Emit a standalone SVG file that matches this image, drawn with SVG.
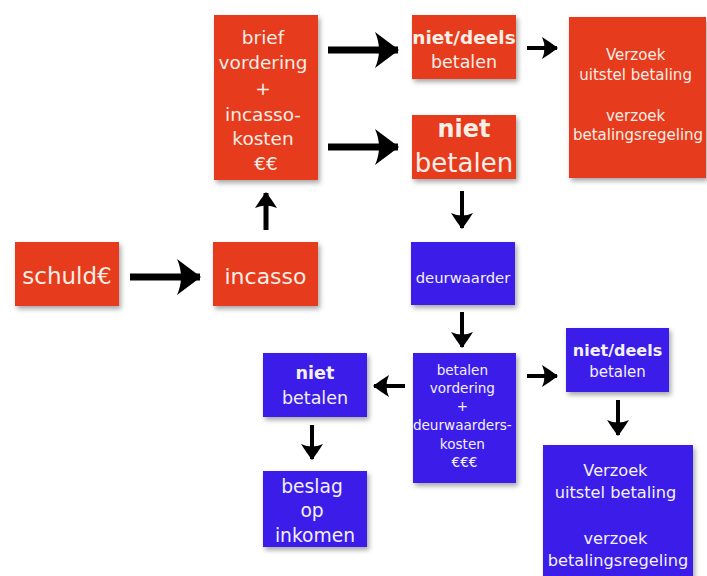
<svg xmlns="http://www.w3.org/2000/svg" width="707" height="576" viewBox="0 0 707 576">
<defs>
<filter id="sh" x="-20%" y="-20%" width="140%" height="140%">
<feDropShadow dx="2" dy="3" stdDeviation="2.5" flood-color="#000" flood-opacity="0.35"/>
</filter>
<marker id="big" viewBox="0 0 24 36" refX="23" refY="18" markerWidth="24" markerHeight="36" markerUnits="userSpaceOnUse" orient="auto">
<path d="M24,18 Q12,9 0,0 Q8,18 0,36 Q12,27 24,18 Z" fill="#000"/>
</marker>
<marker id="sm" viewBox="0 0 16 22" refX="15" refY="11" markerWidth="16" markerHeight="22" markerUnits="userSpaceOnUse" orient="auto">
<path d="M16,11 Q8,5 0,0 Q5,11 0,22 Q8,17 16,11 Z" fill="#000"/>
</marker>
</defs>
<style>
.r{fill:#e63a1c;filter:url(#sh)}
.b{fill:#3b1fe8;filter:url(#sh)}
text{font-family:"DejaVu Sans","Liberation Sans",sans-serif;text-anchor:middle}
.tr{fill:#fbeee6}
.tb{fill:#f3f0ff}
.bd{font-weight:bold}
.bigl{stroke:#000;stroke-width:7;fill:none}
.sml{stroke:#000;stroke-width:4;fill:none}
</style>
<rect width="707" height="576" fill="#fff"/>

<g id="connectors">
<path class="bigl" d="M130,277 H200" marker-end="url(#big)"/>
<path class="sml" d="M266,230 V193" marker-end="url(#sm)" style="stroke-width:5"/>
<path class="bigl" d="M328,50 H398" marker-end="url(#big)"/>
<path class="bigl" d="M328,147 H398" marker-end="url(#big)"/>
<path class="sml" d="M527,48 H557" marker-end="url(#sm)"/>
<path class="sml" d="M462,191 V228" marker-end="url(#sm)"/>
<path class="sml" d="M462,312 V347" marker-end="url(#sm)"/>
<path class="sml" d="M527,376 H557" marker-end="url(#sm)"/>
<path class="sml" d="M405,386 H374" marker-end="url(#sm)"/>
<path class="sml" d="M312,425 V459" marker-end="url(#sm)"/>
<path class="sml" d="M618,400 V435" marker-end="url(#sm)"/>
</g>

<g id="schuld">
<rect class="r" x="15" y="242" width="104" height="64"/>
<text class="tr" x="67" y="284" font-size="23">schuld€</text>
</g>

<g id="incasso">
<rect class="r" x="213" y="242" width="105" height="64"/>
<text class="tr" x="265.5" y="284" font-size="22">incasso</text>
</g>

<g id="brief">
<rect class="r" x="214" y="15" width="104" height="165"/>
<text class="tr" font-size="18.5">
<tspan x="266" y="44">brief</tspan>
<tspan x="266" y="69">vordering</tspan>
<tspan x="266" y="95">+</tspan>
<tspan x="266" y="121">incasso-</tspan>
<tspan x="266" y="145">kosten</tspan>
<tspan x="266" y="170">€€</tspan>
</text>
</g>

<g id="nietdeels-rood">
<rect class="r" x="412" y="15" width="104" height="64"/>
<text class="tr bd" x="464" y="44" font-size="18.5">niet/deels</text>
<text class="tr" x="464" y="68" font-size="17.5">betalen</text>
</g>

<g id="niet-rood">
<rect class="r" x="412" y="115" width="104" height="64"/>
<text class="tr bd" x="464" y="137" font-size="24">niet</text>
<text class="tr" x="464" y="172" font-size="26">betalen</text>
</g>

<g id="verzoek-rood">
<rect class="r" x="569" y="17" width="137" height="161"/>
<text class="tr" font-size="15">
<tspan x="638" y="60">Verzoek</tspan>
<tspan x="638" y="80">uitstel betaling</tspan>
<tspan x="638" y="121">verzoek</tspan>
<tspan x="638" y="140">betalingsregeling</tspan>
</text>
</g>

<g id="deurwaarder">
<rect class="b" x="411" y="242" width="104" height="63"/>
<text class="tb" x="463" y="283" font-size="14.8">deurwaarder</text>
</g>

<g id="betalen-vordering">
<rect class="b" x="413" y="353" width="103" height="130"/>
<text class="tb" font-size="13.6">
<tspan x="464.5" y="375">betalen</tspan>
<tspan x="464.5" y="393">vordering</tspan>
<tspan x="464.5" y="411">+</tspan>
<tspan x="464.5" y="430">deurwaarders-</tspan>
<tspan x="464.5" y="449">kosten</tspan>
<tspan x="464.5" y="467">€€€</tspan>
</text>
</g>

<g id="nietdeels-blauw">
<rect class="b" x="566" y="328" width="103" height="64"/>
<text class="tb bd" x="617.5" y="356" font-size="16">niet/deels</text>
<text class="tb" x="617.5" y="377" font-size="15">betalen</text>
</g>

<g id="verzoek-blauw">
<rect class="b" x="543" y="445" width="150" height="135"/>
<text class="tb" font-size="16.2">
<tspan x="618" y="476">Verzoek</tspan>
<tspan x="618" y="498">uitstel betaling</tspan>
<tspan x="618" y="544">verzoek</tspan>
<tspan x="618" y="566">betalingsregeling</tspan>
</text>
</g>

<g id="niet-blauw">
<rect class="b" x="263" y="353" width="104" height="64"/>
<text class="tb bd" x="315" y="379" font-size="17.6">niet</text>
<text class="tb" x="315" y="404" font-size="17.5">betalen</text>
</g>

<g id="beslag">
<rect class="b" x="263" y="471" width="104" height="76"/>
<text class="tb" font-size="18.7">
<tspan x="315" y="493">beslag</tspan>
<tspan x="315" y="517">op</tspan>
<tspan x="315" y="542">inkomen</tspan>
</text>
</g>
</svg>
